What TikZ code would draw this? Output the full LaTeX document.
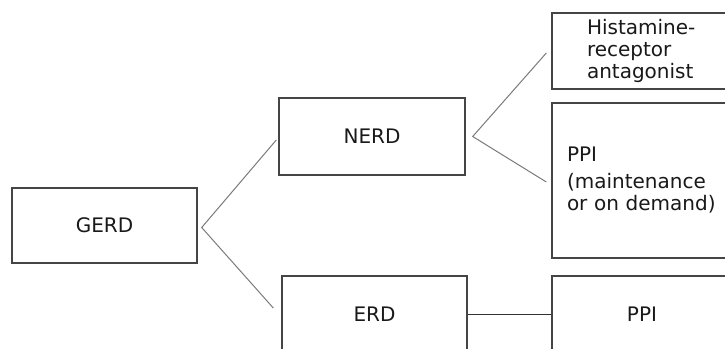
\documentclass[tikz,border=0pt]{standalone}
\usepackage{fontspec}
\setmainfont{DejaVu Sans}
\definecolor{boxline}{HTML}{454545}
\definecolor{linkline}{HTML}{7A7A7A}
\begin{document}
\begin{tikzpicture}[x=1pt,y=-1pt,
  box/.style={draw=boxline, line width=1.4pt, fill=white, inner sep=0pt,
    font=\fontsize{20}{22}\selectfont, text=black!90},
  link/.style={draw=linkline, line width=1pt}]
  \useasboundingbox (0,0) rectangle (725,348);
  \clip (0,0) rectangle (725,348);

  % first level
  \node[box, minimum width=185pt, minimum height=75pt] (gerd) at (104.5,225.5) {GERD};

  % second level
  \node[box, minimum width=186pt, minimum height=77pt] (nerd) at (372,136.5) {NERD};
  \node[box, minimum width=185pt, minimum height=77pt] (erd) at (374.5,314.5) {ERD};

  % treatments (right edges run past the frame)
  \node[box, minimum height=76pt, text width=110pt, align=left, inner xsep=35pt]
    (hist) at (642,51) {Histamine-\\receptor\\antagonist};
  \node[box, minimum height=155pt, text width=170pt, align=left, inner xsep=15pt]
    (ppim) at (652,180.5) {PPI\\[5pt](maintenance\\or on demand)};
  \node[box, minimum width=180pt, minimum height=77pt] (ppi) at (642,314.5) {PPI};

  % branch points
  \coordinate (gfork) at ([xshift=4pt,yshift=-2pt]gerd.east);
  \coordinate (nfork) at ([xshift=7pt]nerd.east);
  \coordinate (nerdin) at ([xshift=-2pt,yshift=-3.5pt]nerd.west);
  \coordinate (erdin) at ([xshift=-8pt,yshift=6.5pt]erd.west);
  \coordinate (histin) at ([xshift=-5pt,yshift=-2pt]hist.west);
  \coordinate (ppimin) at ([xshift=-5pt,yshift=-1.5pt]ppim.west);

  \draw[link] (nerdin) -- (gfork) -- (erdin);
  \draw[link] (histin) -- (nfork) -- (ppimin);
  \draw[draw=black!80, line width=1pt] (erd.east) -- (ppi.west);
\end{tikzpicture}
\end{document}
